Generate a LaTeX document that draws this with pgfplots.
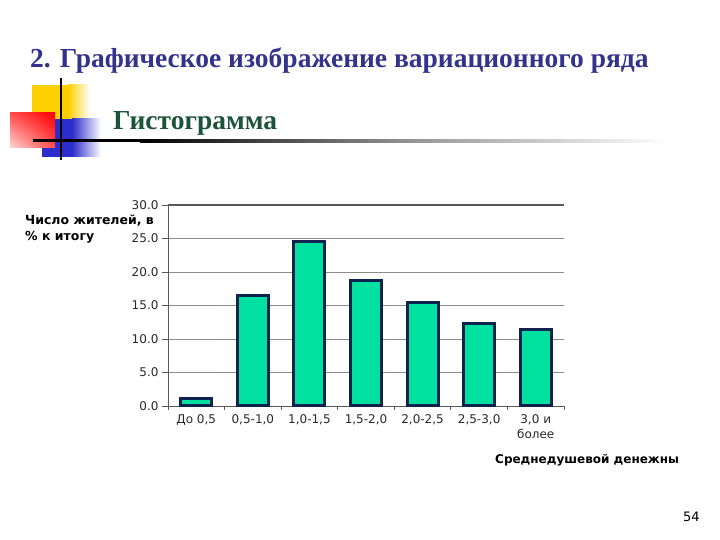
\documentclass[border=0pt]{standalone}
\usepackage{fontspec}
\setmainfont{Liberation Serif}
\newfontfamily\dv{DejaVu Sans}
\usepackage{pgfplots}
\pgfplotsset{compat=1.18}
\usetikzlibrary{shadings}
\definecolor{titleblue}{RGB}{51,51,140}
\definecolor{titlegreen}{RGB}{28,84,58}
\definecolor{barfill}{RGB}{0,224,160}
\definecolor{bardraw}{RGB}{14,34,78}
\definecolor{gridgray}{RGB}{140,140,140}
\definecolor{axgray}{RGB}{90,90,90}
\definecolor{txtgray}{RGB}{40,40,40}
\definecolor{decoyellow}{RGB}{255,208,0}
\definecolor{decoblue}{RGB}{45,45,205}
\begin{document}
\begin{tikzpicture}[x=1pt,y=1pt]
\useasboundingbox (0,0) rectangle (720,540);
% decoration
\fill[decoyellow] (32,415) rectangle (68,455);
\shade[left color=decoyellow, right color=white] (68,415) rectangle (90,455);
\fill[decoblue] (42,383) rectangle (72,421);
\shade[left color=decoblue, right color=white] (72,383) rectangle (101,421);
\shade[upper right=red, upper left=red!70, lower right=red!70, lower left=red!15] (10,392) rectangle (55,427);
\draw[line width=2pt] (61,380) -- (61,462);
\fill[black] (33,397.5) rectangle (140,400.5);
\shade[left color=black, right color=black!40] (140,397.5) rectangle (420,400.5);
\shade[left color=black!40, right color=white] (420,397.5) rectangle (670,400.5);
% titles
\node[anchor=base west, inner sep=0, text=titleblue, font=\fontsize{27.5}{32}\selectfont\bfseries] at (30,472) {2. Графическое изображение вариационного ряда};
\node[anchor=base west, inner sep=0, text=titlegreen, font=\fontsize{27.5}{32}\selectfont\bfseries] at (113,410) {Гистограмма};
% axis label texts
\node[anchor=base west, inner sep=0, font=\dv\fontsize{12.5}{14}\selectfont\bfseries] at (25,315) {Число жителей, в};
\node[anchor=base west, inner sep=0, font=\dv\fontsize{12.5}{14}\selectfont\bfseries] at (25,299) {\% к итогу};
\begin{scope}
\clip (480,60) rectangle (678,100);
\node[anchor=base west, inner sep=0, font=\dv\fontsize{12}{14}\selectfont\bfseries] at (495,76) {Среднедушевой денежный доход};
\end{scope}
\node[anchor=base west, inner sep=0, font=\dv\fontsize{13}{15}\selectfont] at (683,18) {54};
\begin{axis}[
  at={(168pt,134pt)}, anchor=south west,
  scale only axis, width=396pt, height=201pt,
  xmin=-0.5, xmax=6.5, ymin=0, ymax=30,
  axis x line*=bottom, axis y line*=left,
  axis line style={axgray, line width=0.8pt},
  ytick={0,5,...,30},
  ymajorgrids, grid style={gridgray, line width=0.8pt},
  yticklabel style={/pgf/number format/fixed, /pgf/number format/precision=1, /pgf/number format/fixed zerofill, font=\dv\fontsize{12}{14}\selectfont, text=txtgray},
  /pgf/number format/assume math mode=true,
  xtick={0,...,6},
  xticklabels={До 0\rlap{,}\hphantom{,}5,{0,5-1,0},{1,0-1,5},{1,5-2,0},{2,0-2,5},{2,5-3,0},{3,0 и\\более}},
  xticklabel style={font=\dv\fontsize{12}{15}\selectfont, text=txtgray, align=center, anchor=north, yshift=1pt},
  major x tick style={draw=none},
  minor xtick={-0.5,0.5,...,6.5},
  minor x tick style={axgray, line width=0.8pt},
  tick align=outside,
  major tick length=6pt, minor tick length=4pt,
  ytick style={axgray, line width=0.8pt},
  clip=false,
]
\addplot[ybar, bar width=31pt, fill=barfill, draw=bardraw, line width=3pt] coordinates {
 (0,1.1) (1,16.5) (2,24.6) (3,18.8) (4,15.5) (5,12.3) (6,11.4)
};
\draw[axgray, line width=1.5pt] (axis cs:-0.5,30) -- (axis cs:6.5,30);
\end{axis}
\end{tikzpicture}
\end{document}
